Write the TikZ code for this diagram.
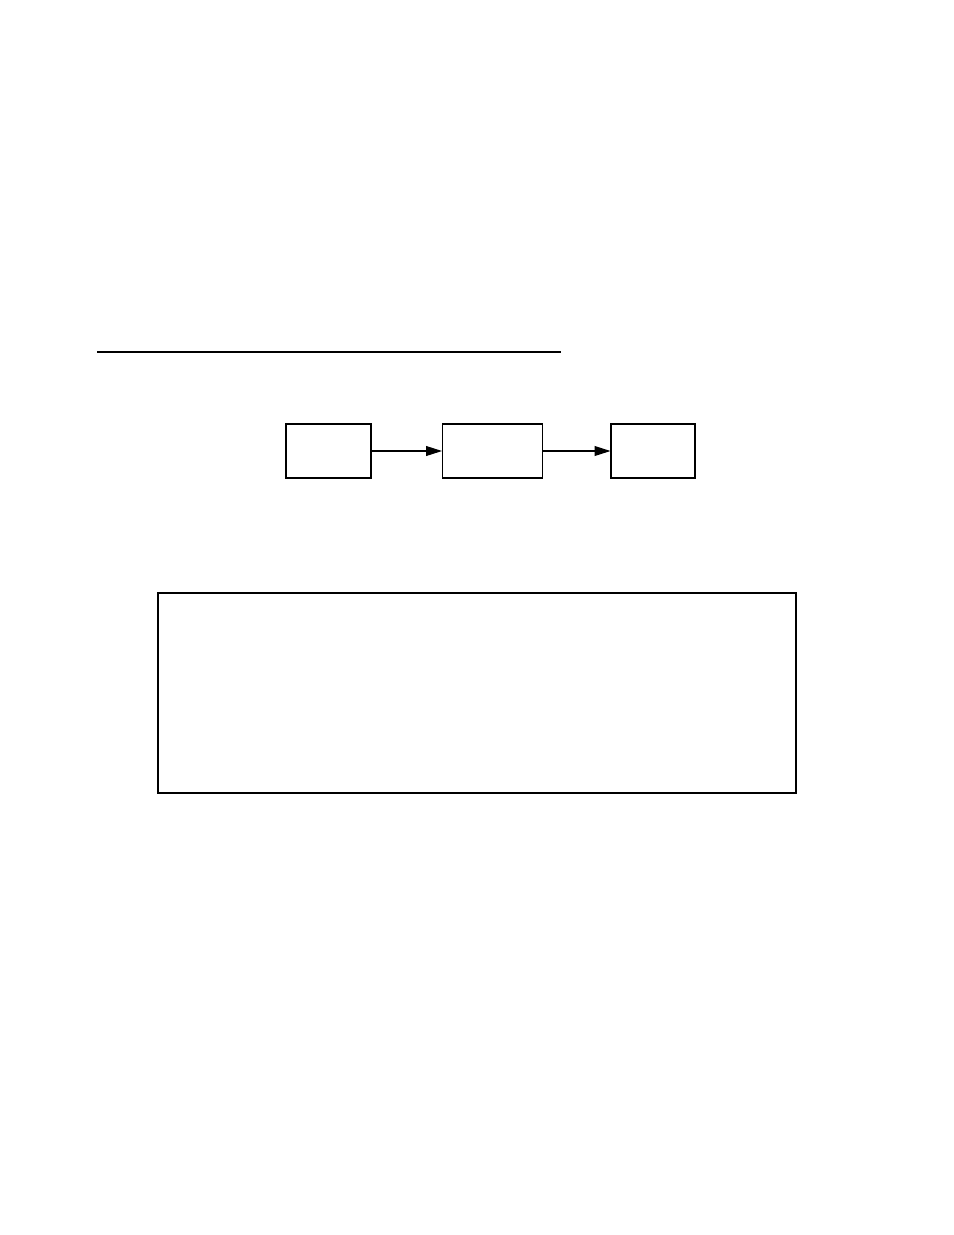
\documentclass[tikz,border=0pt]{standalone}
\usepackage{tikz}
\usetikzlibrary{arrows.meta}

\begin{document}
\begin{tikzpicture}[x=0.02cm,y=-0.02cm]
\tikzset{blk/.style={draw, line width=0.6pt, inner sep=0pt, minimum height=1.08cm}}

\useasboundingbox (0,0) rectangle (954,1235);

\tikzstyle{myedgestyle} = [-{Triangle[length=9pt,width=5.6pt]}, line width=0.6pt]

\coordinate (v1) at (97,352);
\coordinate (v2) at (561,352);
\draw [line width=0.6pt] (v1) -- (v2);

\node [blk, minimum width=1.7cm] (b1) at (328.5,451) {};
\node [blk, minimum width=2cm] (b2) at (492.5,451) {};
\node [blk, minimum width=1.68cm] (b3) at (653,451) {};

\draw [myedgestyle] (b1) -- (b2);
\draw [myedgestyle] (b2) -- (b3);

\node [draw, line width=1.1pt, inner sep=0pt, minimum width=12.76cm, minimum height=4cm] (v3) at (477,593+100) {};
\end{tikzpicture}
\end{document}
